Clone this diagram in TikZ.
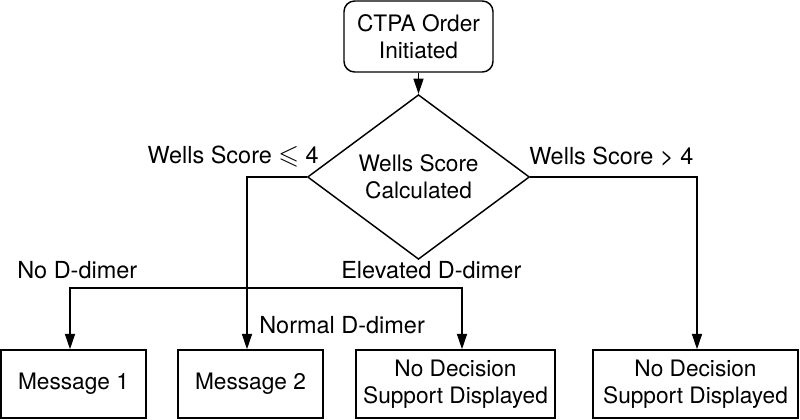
\documentclass[tikz,border=0pt]{standalone}
\usepackage{amssymb}
\usepackage{fontspec}
\setmainfont{TeX Gyre Heros}
\usetikzlibrary{shapes.geometric,arrows.meta}
\begin{document}
\begin{tikzpicture}[x=0.75pt,y=-0.75pt,
  every node/.style={font=\fontsize{17}{20.5}\selectfont, inner sep=0pt},
  boxnode/.style={draw, line width=1.1pt, align=center, minimum height=68*0.75pt},
  startnode/.style={draw, line width=1.1pt, rounded corners=8pt, align=center,
    minimum width=149*0.75pt, minimum height=71*0.75pt},
  decnode/.style={draw, line width=1.1pt, diamond, align=center,
    minimum width=222*0.75pt, minimum height=130*0.75pt},
  arr/.style={line width=1.1pt, -{Triangle[length=11.5pt,width=7.5pt]}},
  lbl/.style={font=\fontsize{17.6}{21}\selectfont}]
\useasboundingbox (0,0) rectangle (800,420);
\node[startnode] (start) at (418.5,36.5) {CTPA Order\\Initiated};
\node[decnode] (dec) at (418.5,177) {Wells Score\\Calculated};
\node[boxnode, minimum width=145*0.75pt] (m1) at (73.5,384) {Message 1};
\node[boxnode, minimum width=145*0.75pt] (m2) at (250.5,384) {Message 2};
\node[boxnode, minimum width=199*0.75pt] (nd1) at (455.5,384) {No Decision\\Support Displayed};
\node[boxnode, minimum width=205*0.75pt] (nd2) at (695.5,384) {No Decision\\Support Displayed};
\coordinate (m1in) at ({70,0} |- m1.north);
\coordinate (m2in) at ({247,0} |- m2.north);
\coordinate (nd1in) at ({462,0} |- nd1.north);
\coordinate (nd2in) at ({697,0} |- nd2.north);
\coordinate (split) at (247,288);
\draw[arr] (start) -- (dec);
\draw[arr] (dec.west) -| (m2in);
\draw[arr] (split) -| (m1in);
\draw[arr] (split) -| (nd1in);
\draw[arr] (dec.east) -| (nd2in);
\node[lbl, anchor=east] (lwl) at (319,157) {Wells Score {\fontsize{20}{24}\selectfont$\leqslant$} 4};
\node[lbl, anchor=west] (lwg) at (529,157) {Wells Score > 4};
\node[lbl, anchor=west] (lnd) at (17,270) {No D-dimer};
\node[lbl, anchor=west] (led) at (341,270) {Elevated D-dimer};
\node[lbl, anchor=west] (lnn) at (259,325) {Normal D-dimer};
\end{tikzpicture}
\end{document}
